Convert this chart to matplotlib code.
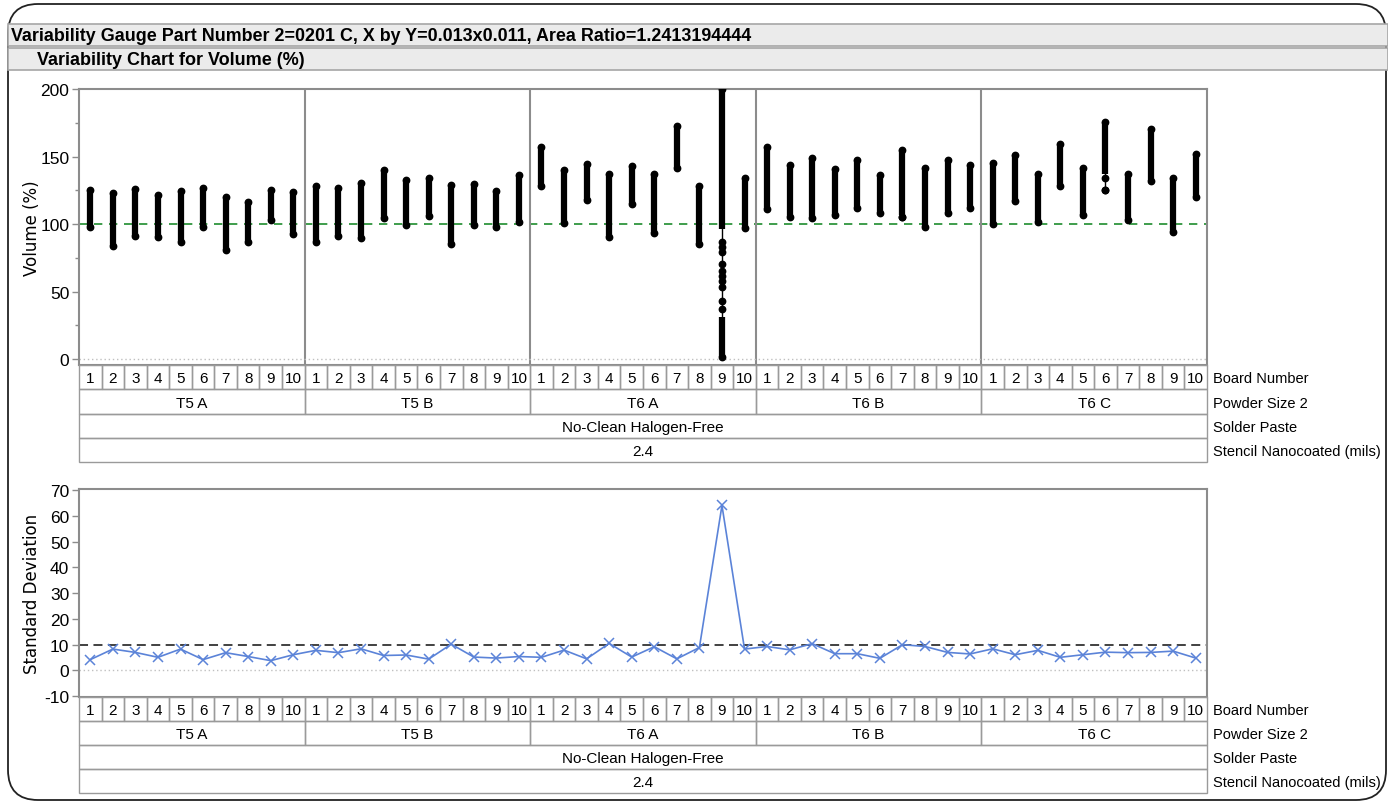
import numpy as np
import matplotlib
matplotlib.use('Agg')
import matplotlib.pyplot as plt
from matplotlib.patches import FancyBboxPatch, Rectangle

# data
groups = ['T5 A', 'T5 B', 'T6 A', 'T6 B', 'T6 C']
boards = [str(b) for b in range(1, 11)]
solder_paste = 'No-Clean Halogen-Free'
stencil = '2.4'
row_names = ['Board Number', 'Powder Size 2', 'Solder Paste', 'Stencil Nanocoated (mils)']

vol_max = [125.2, 122.7, 125.7, 121.7, 124.2, 126.7, 120.2, 116.0, 125.2, 124.0,
           128.4, 126.9, 130.4, 140.2, 132.6, 133.8, 128.9, 129.4, 124.2, 136.0,
           156.8, 140.2, 144.2, 137.3, 142.7, 137.3, 172.8, 127.9, 200.0, 134.3,
           157.0, 143.7, 148.9, 140.7, 147.4, 136.5, 155.1, 141.2, 147.7, 144.0,
           144.9, 151.1, 137.3, 159.0, 141.5, 175.3, 137.0, 170.4, 134.3, 151.6]
vol_min = [97.5, 84.0, 91.4, 90.6, 86.9, 98.0, 80.7, 86.9, 103.2, 92.3,
           86.4, 90.9, 89.4, 104.7, 99.5, 105.7, 84.9, 99.3, 97.8, 101.2,
           127.9, 100.7, 117.5, 90.1, 114.8, 93.1, 141.2, 85.4, 1.2, 97.3,
           111.1, 105.4, 104.7, 106.7, 111.9, 107.9, 105.4, 97.5, 107.9, 111.6,
           99.8, 117.3, 101.7, 128.4, 106.7, 125.2, 103.0, 132.1, 94.3, 120.0]
# boards whose readings are not one continuous run (index -> runs / lone points)
vol_runs = {28: [(1.2, 31.0), (96.5, 200.0)], 36: [(107.0, 155.1)], 45: [(137.0, 175.3)]}
vol_loose = {28: [86.4, 82.7, 79.0, 70.4, 65.4, 61.7, 58.0, 53.1, 43.2, 37.0],
             36: [105.4], 45: [133.8, 125.2]}

std_dev = [4.2, 8.3, 7.0, 5.1, 8.3, 4.2, 6.9, 5.4, 3.8, 6.1,
           7.8, 6.9, 8.4, 5.8, 6.0, 4.4, 10.2, 5.2, 4.8, 5.4,
           5.1, 7.9, 4.5, 10.5, 5.2, 9.2, 4.5, 8.9, 64.0, 8.3,
           9.3, 8.0, 10.4, 6.5, 6.5, 4.7, 10.0, 9.3, 7.0, 6.4,
           8.4, 6.1, 7.8, 5.1, 6.1, 7.1, 6.9, 7.0, 7.5, 4.8]
vol_target = 100
std_ref = 9.8

title1 = 'Variability Gauge Part Number 2=0201 C, X by Y=0.013x0.011, Area Ratio=1.2413194444'
title2 = 'Variability Chart for Volume (%)'

narrow = ['Liberation Sans', 'DejaVu Sans']
plt.rcParams['font.family'] = ['DejaVu Sans']
plt.rcParams['axes.unicode_minus'] = False

W, H = 1388, 804
fig = plt.figure(figsize=(W / 100, H / 100), dpi=100)


def px(l, t, r, b):
    return [l / W, 1 - b / H, (r - l) / W, (b - t) / H]


# background: frame and header bars in pixel units
bg = fig.add_axes([0, 0, 1, 1])
bg.set_xlim(0, W)
bg.set_ylim(H, 0)
bg.axis('off')
bg.add_patch(FancyBboxPatch((8, 5), 1378, 796, boxstyle='round,pad=0,rounding_size=30',
                            fc='none', ec='#222222', lw=1.3))
bg.add_patch(Rectangle((8, 25), 1380, 22, fc='#ebebeb', ec='#a6a6a6', lw=1.2))
bg.add_patch(Rectangle((8, 49), 1380, 22, fc='#ebebeb', ec='#a6a6a6', lw=1.2))
bg.text(11, 36.5, title1, fontsize=12.9, weight='bold', family=narrow, va='center')
bg.text(37, 60.5, title2, fontsize=13, weight='bold', family=narrow, va='center')

x = np.arange(len(vol_max)) + 0.5
grid_col = '#8c8c8c'


def style_axes(ax):
    for s in ax.spines.values():
        s.set_color(grid_col)
        s.set_linewidth(1.5)
    ax.set_xlim(0, 50)
    ax.set_xticks([])
    ax.tick_params(axis='y', which='both', color=grid_col, length=5, width=1, labelsize=12.5, pad=2)
    ax.tick_params(axis='y', which='minor', length=3)
    for lab in ax.get_yticklabels():
        lab.set_fontfamily(narrow)


def draw_table(tax):
    tax.set_xlim(0, 50)
    tax.set_ylim(4, 0)
    tax.axis('off')
    ec = '#9a9a9a'
    fs = 11
    for i in range(50):
        tax.add_patch(Rectangle((i, 0), 1, 1, fc='none', ec=ec, lw=1, clip_on=False))
        tax.text(i + 0.5, 0.55, boards[i % 10], ha='center', va='center', fontsize=fs, family=narrow)
    for g, name in enumerate(groups):
        tax.add_patch(Rectangle((g * 10, 1), 10, 1, fc='none', ec=ec, lw=1, clip_on=False))
        tax.text(g * 10 + 5, 1.55, name, ha='center', va='center', fontsize=fs, family=narrow)
    tax.add_patch(Rectangle((0, 2), 50, 1, fc='none', ec=ec, lw=1, clip_on=False))
    tax.text(25, 2.55, solder_paste, ha='center', va='center', fontsize=fs, family=narrow)
    tax.add_patch(Rectangle((0, 3), 50, 1, fc='none', ec=ec, lw=1, clip_on=False))
    tax.text(25, 3.55, stencil, ha='center', va='center', fontsize=fs, family=narrow)
    for r, name in enumerate(row_names):
        tax.text(50.27, r + 0.55, name, ha='left', va='center', fontsize=10.5,
                 family=narrow, clip_on=False)


# top: variability chart
ax1 = fig.add_axes(px(79, 90, 1207, 366))
ax1.set_ylim(-4.4, 200)
ax1.set_yticks([0, 50, 100, 150, 200])
ax1.set_yticks([25, 75, 125, 175], minor=True)
style_axes(ax1)
for g in range(1, 5):
    ax1.axvline(g * 10, color=grid_col, lw=1.5)
ax1.axhline(0, color='#c0c0c0', lw=1, ls=(0, (1, 2)))
ax1.axhline(vol_target, color='#1e8c2e', lw=1.2, ls=(0, (5, 4)), zorder=1)
for i in range(len(vol_max)):
    lo, hi = vol_min[i], vol_max[i]
    ax1.plot([x[i], x[i]], [lo, hi], color='black', lw=1, zorder=2)
    for a, b in vol_runs.get(i, [(lo, hi)]):
        ax1.plot([x[i], x[i]], [a, b], color='black', lw=4.5, solid_capstyle='butt', zorder=3)
    pts = [lo, hi] + vol_loose.get(i, [])
    ax1.plot([x[i]] * len(pts), pts, 'o', color='black', ms=4.6, zorder=3)
ax1.set_ylabel('Volume (%)', fontsize=12)
ax1.yaxis.set_label_coords(-0.034, 0.5)

draw_table(fig.add_axes(px(79, 366, 1207, 463)))

# bottom: standard deviation chart
ax2 = fig.add_axes(px(79, 490, 1207, 698))
ax2.set_ylim(-10.3, 70.4)
ax2.set_yticks(range(-10, 71, 10))
style_axes(ax2)
ax2.axhline(0, color='#c0c0c0', lw=1, ls=(0, (1, 2)))
ax2.axhline(std_ref, color='#333333', lw=1.3, ls=(0, (5, 3)), zorder=1)
ax2.plot(x, std_dev, color='#5b83d8', lw=1.2, marker='x', ms=7, mew=1.1, zorder=3)
ax2.set_ylabel('Standard Deviation', fontsize=12)
ax2.yaxis.set_label_coords(-0.034, 0.5)

draw_table(fig.add_axes(px(79, 698, 1207, 794)))

fig.savefig('out.png', dpi=100)
